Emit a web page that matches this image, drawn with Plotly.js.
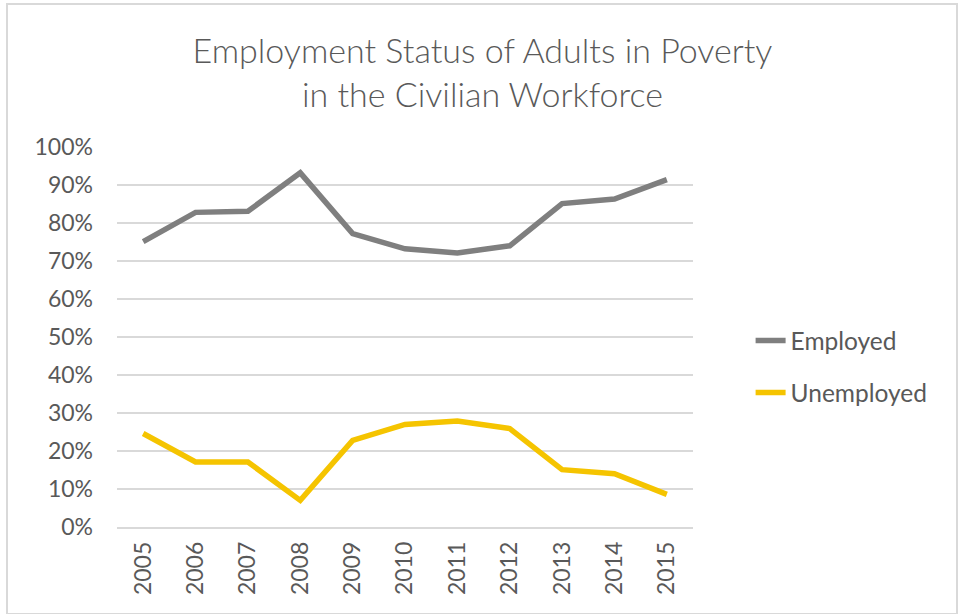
<!DOCTYPE html>
<html>
<head>
<meta charset="utf-8">
<script src="https://cdn.plot.ly/plotly-3.0.1.min.js"></script>
<style>
  html, body { margin: 0; padding: 0; background: #ffffff; }
  #chart { width: 965px; height: 614px; position: absolute; left: 0; top: 0; }
  #frame { position: absolute; left: 6px; top: 3px; width: 948px; height: 608px;
           border: 2px solid #d9d9d9; pointer-events: none; }
</style>
</head>
<body>
<div id="chart"></div>
<div id="frame"></div>
<script>
const years = ["2005","2006","2007","2008","2009","2010","2011","2012","2013","2014","2015"];
const employed   = [0.751, 0.828, 0.831, 0.932, 0.772, 0.732, 0.721, 0.740, 0.851, 0.863, 0.914];
const unemployed = [0.246, 0.171, 0.171, 0.070, 0.228, 0.270, 0.279, 0.259, 0.151, 0.140, 0.086];
const seriesNames = ["Employed", "Unemployed"];
const yTickVals = [0, 0.1, 0.2, 0.3, 0.4, 0.5, 0.6, 0.7, 0.8, 0.9, 1.0];
const yTickText = ["0%","10%","20%","30%","40%","50%","60%","70%","80%","90%","100%"];

const FONT = "Lato, 'Open Sans', sans-serif";
const TXT = "#595959";

const traces = [
  { x: years, y: employed, name: seriesNames[0], type: "scatter", mode: "lines",
    legendgroup: "a", line: { color: "#7f7f7f", width: 5.5 } },
  { x: years, y: unemployed, name: seriesNames[1], type: "scatter", mode: "lines",
    legendgroup: "b", line: { color: "#f5c400", width: 5.5 } }
];

const layout = {
  width: 965, height: 614,
  margin: { l: 117, r: 272, t: 147, b: 87 },
  paper_bgcolor: "#ffffff", plot_bgcolor: "#ffffff",
  font: { family: FONT, color: TXT },
  title: {
    text: "Employment Status of Adults in Poverty<br>in the Civilian Workforce",
    font: { family: FONT, size: 34, color: TXT, weight: 300 },
    x: 0.5, xref: "container", xanchor: "center",
    y: 0.897, yref: "container", yanchor: "middle"
  },
  xaxis: {
    type: "category", range: [-0.5, 10.5],
    showgrid: false, showline: true, linecolor: "#d9d9d9", linewidth: 1.5,
    ticks: "", tickangle: -90, tickfont: { family: FONT, size: 23, color: TXT },
    ticklabelstandoff: 4, fixedrange: true
  },
  yaxis: {
    range: [0, 1], tickvals: yTickVals, ticktext: yTickText,
    showgrid: true, gridcolor: "#d9d9d9", gridwidth: 1.5,
    zeroline: false, showline: false, ticks: "",
    tickfont: { family: FONT, size: 23, color: TXT },
    ticklabelstandoff: 23, fixedrange: true
  },
  showlegend: true,
  legend: {
    x: 1.1, xanchor: "left", y: 0.422, yanchor: "middle",
    traceorder: "grouped", tracegroupgap: 17,
    font: { family: FONT, size: 24.5, color: TXT },
    itemwidth: 30, bgcolor: "rgba(0,0,0,0)"
  }
};

Plotly.newPlot("chart", traces, layout, { displayModeBar: false, staticPlot: true });
</script>
</body>
</html>
